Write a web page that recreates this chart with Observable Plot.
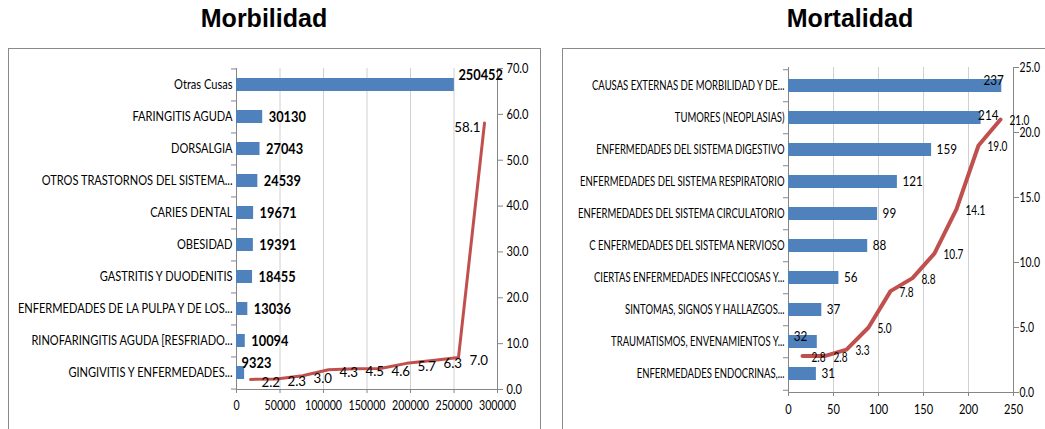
<!DOCTYPE html>
<html>
<head>
<meta charset="utf-8">
<script src="https://cdn.jsdelivr.net/npm/d3@7"></script>
<script src="https://cdn.jsdelivr.net/npm/@observablehq/plot@0.6"></script>
<style>
  html, body { margin: 0; padding: 0; background: #fff; }
  body { width: 1045px; height: 429px; position: relative; overflow: hidden; }
  .title { position: absolute; top: 6px; font: bold 25px "Liberation Sans", Arial, sans-serif; line-height: 25px; color: #000; text-align: center; width: 300px; }
  .box { position: absolute; top: 48px; height: 420px; border: 1px solid #8a8a8a; box-sizing: border-box; }
  .layer { position: absolute; top: 0; }
</style>
</head>
<body>
<div class="title" style="left:114px">Morbilidad</div>
<div class="title" style="left:700px">Mortalidad</div>
<div class="box" style="left:8px;width:533px"></div>
<div class="box" style="left:562px;width:500px"></div>
<div id="left" class="layer" style="left:0px"></div>
<div id="leftLine" class="layer" style="left:0px"></div>
<div id="right" class="layer" style="left:545px"></div>
<div id="rightLine" class="layer" style="left:545px"></div>
<script>
// ---------- Data: Morbilidad ----------
const morbCategories = [
  "Otras Cusas",
  "FARINGITIS AGUDA",
  "DORSALGIA",
  "OTROS TRASTORNOS DEL SISTEMA...",
  "CARIES DENTAL",
  "OBESIDAD",
  "GASTRITIS Y DUODENITIS",
  "ENFERMEDADES DE LA PULPA Y DE LOS...",
  "RINOFARINGITIS AGUDA [RESFRIADO...",
  "GINGIVITIS Y ENFERMEDADES..."
];
const morbValues = [250452, 30130, 27043, 24539, 19671, 19391, 18455, 13036, 10094, 9323];
const morbPercent = [2.2, 2.3, 3.0, 4.3, 4.5, 4.6, 5.7, 6.3, 7.0, 58.1];
const morbXTicks = [0, 50000, 100000, 150000, 200000, 250000, 300000];
const morbPctTicks = [0, 10, 20, 30, 40, 50, 60, 70];

// ---------- Data: Mortalidad ----------
const mortCategories = [
  "CAUSAS EXTERNAS DE MORBILIDAD Y DE...",
  "TUMORES (NEOPLASIAS)",
  "ENFERMEDADES DEL SISTEMA DIGESTIVO",
  "ENFERMEDADES DEL SISTEMA RESPIRATORIO",
  "ENFERMEDADES DEL SISTEMA CIRCULATORIO",
  "C ENFERMEDADES DEL SISTEMA NERVIOSO",
  "CIERTAS ENFERMEDADES INFECCIOSAS Y...",
  "SINTOMAS, SIGNOS Y HALLAZGOS...",
  "TRAUMATISMOS, ENVENAMIENTOS Y...",
  "ENFERMEDADES ENDOCRINAS,..."
];
const mortValues = [237, 214, 159, 121, 99, 88, 56, 37, 32, 31];
const mortPercent = [2.8, 2.8, 3.3, 5.0, 7.8, 8.8, 10.7, 14.1, 19.0, 21.0];
const mortXTicks = [0, 50, 100, 150, 200, 250];
const mortPctTicks = [0, 5, 10, 15, 20, 25];

// ---------- Styles ----------
const FONT = 'Lato, "Open Sans", sans-serif';
const BLUE = "#4f81bd";
const RED = "#c0504d";
const AXIS = "#868686";
const GRID = "#d0d0d0";
const H = 429;

// Condense text horizontally per mark group (the reference uses a narrow face)
function condense(svg, factors) {
  d3.select(svg).selectAll("g[aria-label]").each(function () {
    const k = factors[this.getAttribute("aria-label")];
    if (!k) return;
    d3.select(this).selectAll("text").each(function () {
      const len = this.getComputedTextLength();
      if (len > 0) {
        this.setAttribute("textLength", (len * k).toFixed(2));
        this.setAttribute("lengthAdjust", "spacingAndGlyphs");
      }
    });
  });
}

function drawPanel(cfg) {
  const n = cfg.categories.length;
  const step = (H - cfg.mT - cfg.mB) / n;
  const rows = cfg.categories.map((c, i) => ({cat: c, value: cfg.values[i], i}));
  const pctRows = cfg.percent.map((p, i) => ({i, p}));
  const xMax = cfg.xTicks[cfg.xTicks.length - 1];
  const pctMax = cfg.pctTicks[cfg.pctTicks.length - 1];
  const common = {
    width: cfg.width, height: H,
    marginLeft: cfg.mL, marginRight: cfg.mR, marginTop: cfg.mT, marginBottom: cfg.mB,
    style: {background: "transparent", fontFamily: FONT, fontSize: "12px", color: "#000", overflow: "visible"}
  };

  const valueMarks = rows.map(r => {
    const s = cfg.valueLabelStyle(r.i);
    return Plot.text([r], {
      x: "value", y: "cat", text: d => String(d.value),
      textAnchor: s.anchor || "start", dx: s.dx, dy: s.dy,
      fontSize: cfg.valueFont, fontWeight: cfg.valueWeight, fill: "#000"
    });
  });

  const bars = Plot.plot({
    ...common,
    x: {domain: [0, xMax]},
    y: {type: "band", domain: cfg.categories, paddingInner: 0.6, paddingOuter: 0.3},
    marks: [
      Plot.gridX(cfg.xTicks.filter(d => d > 0 && d < xMax), {stroke: GRID, strokeOpacity: 1}),
      Plot.ruleX([0], {stroke: AXIS}),
      Plot.ruleX([xMax], {stroke: AXIS}),
      Plot.barX(rows, {x: "value", y: "cat", fill: BLUE}),
      Plot.axisX({ticks: cfg.xTicks, tickFormat: d => String(d), tickSize: 4, tickPadding: 8,
        stroke: AXIS, fill: "#000", fontSize: cfg.xFont, label: null}),
      Plot.axisY({tickSize: 0, tickPadding: 4, fill: "#000", fontSize: cfg.catFont, label: null}),
      Plot.ruleY(cfg.categories, {y: d => d, x1: 0, x2: 0, insetLeft: -5, dy: -step / 2, stroke: AXIS}),
      Plot.ruleY([cfg.categories[n - 1]], {y: d => d, x1: 0, x2: 0, insetLeft: -5, dy: step / 2, stroke: AXIS}),
      ...valueMarks
    ]
  });
  document.getElementById(cfg.id).append(bars);
  condense(bars, {"y-axis tick label": cfg.kCat, "x-axis tick label": cfg.kX, "text": cfg.kValue});

  const lastIdx = pctRows.length - 1;
  const line = Plot.plot({
    ...common,
    x: {type: "point", domain: d3.range(n), padding: 0.5, axis: null},
    y: {domain: [0, pctMax]},
    marks: [
      Plot.ruleY([0], {stroke: AXIS}),
      Plot.axisY({anchor: "right", ticks: cfg.pctTicks, tickFormat: d3.format(".1f"), tickSize: 5,
        tickPadding: cfg.pctPad, stroke: AXIS, fill: "#000", fontSize: cfg.pctFont, label: null}),
      Plot.line(pctRows, {x: "i", y: "p", stroke: RED, strokeWidth: cfg.lineWidth, strokeLinejoin: "round"}),
      Plot.text(pctRows.filter(d => !(cfg.lastLeft && d.i === lastIdx)), {
        x: "i", y: "p", text: d => d.p.toFixed(1), textAnchor: "start",
        dx: cfg.pLabelDx, dy: cfg.pLabelDy, fontSize: cfg.pLabelFont, fill: "#000"
      }),
      ...(cfg.lastLeft ? [Plot.text(pctRows.filter(d => d.i === lastIdx), {
        x: "i", y: "p", text: d => d.p.toFixed(1), textAnchor: "end",
        dx: -4, dy: 4, fontSize: cfg.pLabelFont, fill: "#000"
      })] : [])
    ]
  });
  document.getElementById(cfg.id + "Line").append(line);
  condense(line, {"y-axis tick label": cfg.kPct, "text": cfg.kPLabel});
}

drawPanel({
  id: "left", width: 545, mL: 236, mR: 48, mT: 68, mB: 40,
  categories: morbCategories, values: morbValues, percent: morbPercent,
  xTicks: morbXTicks, pctTicks: morbPctTicks,
  catFont: 14, kCat: 0.79,
  xFont: 12.5, kX: 0.85,
  pctFont: 13.5, kPct: 0.82, pctPad: 4,
  valueFont: 16, valueWeight: "bold", kValue: 0.8,
  pLabelFont: 14, kPLabel: 0.95, pLabelDx: 11, pLabelDy: 3,
  lineWidth: 3, lastLeft: true,
  valueLabelStyle: i => i === 0 ? {dx: 4, dy: -10} : i === 9 ? {dx: -3, dy: -10} : {dx: 6, dy: 0}
});

drawPanel({
  id: "right", width: 500, mL: 243, mR: 32, mT: 67, mB: 37,
  categories: mortCategories, values: mortValues, percent: mortPercent,
  xTicks: mortXTicks, pctTicks: mortPctTicks,
  catFont: 13, kCat: 0.73,
  xFont: 13, kX: 0.85,
  pctFont: 13, kPct: 0.8, pctPad: 1,
  valueFont: 13, valueWeight: "normal", kValue: 0.9,
  pLabelFont: 14, kPLabel: 0.72, pLabelDx: 9, pLabelDy: 1,
  lineWidth: 4, lastLeft: false,
  valueLabelStyle: i => i === 0 ? {anchor: "end", dx: 2, dy: -5}
    : i === 1 ? {dx: -3, dy: -2}
    : i === 8 ? {anchor: "end", dx: -10, dy: -5}
    : {dx: 5, dy: 0}
});
</script>
</body>
</html>
